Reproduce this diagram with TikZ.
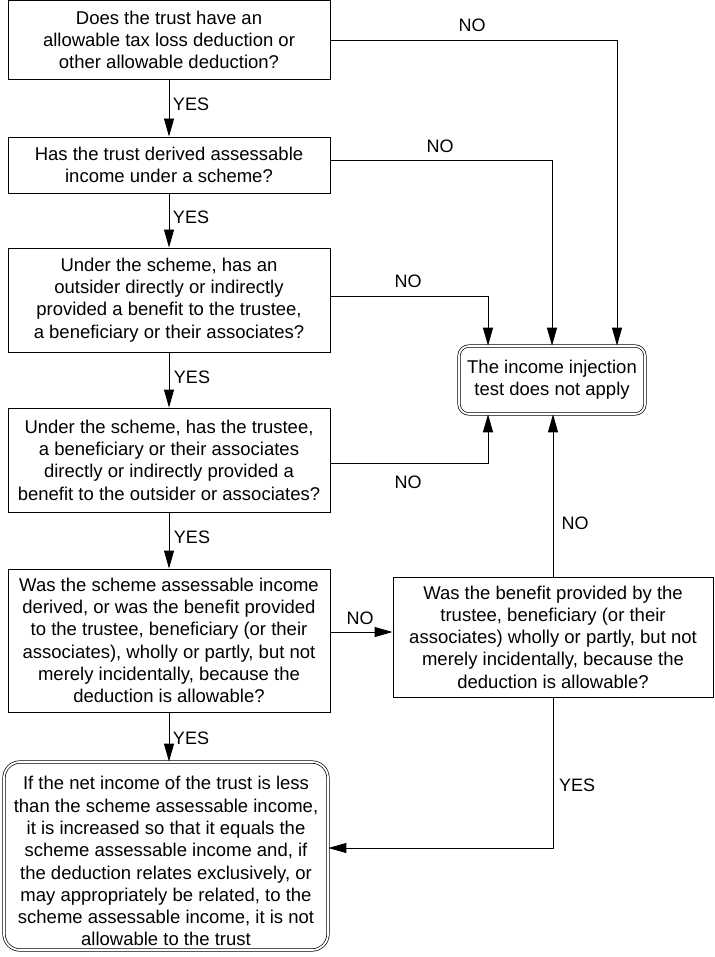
\documentclass[tikz,border=0pt]{standalone}
\usepackage{fontspec}
\setmainfont{Liberation Sans}
\usetikzlibrary{arrows.meta}
\begin{document}
\begin{tikzpicture}[x=1pt,y=-1pt,
  every node/.style={font=\fontsize{18.5}{22.3}\selectfont, inner sep=0pt},
  qbox/.style={draw, line width=0.9pt, rectangle, align=center},
  endbox/.style={draw, line width=0.7pt, double, double distance=1.8pt, rounded corners=10pt, align=center},
  arr/.style={line width=0.9pt, -{Triangle[length=18pt,width=10pt]}},
  lbl/.style={font=\fontsize{18}{20}\selectfont}
]
\useasboundingbox (0,0) rectangle (714,957);
\fill[white] (0,0) rectangle (714,957);

\node[qbox, minimum width=322pt, minimum height=79pt] (b1) at (169,40)
  {Does the trust have an\\allowable tax loss deduction or\\other allowable deduction?};
\node[qbox, minimum width=322pt, minimum height=56pt] (b2) at (169,165)
  {Has the trust derived assessable\\income under a scheme?};
\node[qbox, minimum width=322pt, minimum height=104pt] (b3) at (169,300)
  {Under the scheme, has an\\outsider directly or indirectly\\provided a benefit to the trustee,\\a beneficiary or their associates?};
\node[qbox, minimum width=322pt, minimum height=104pt] (b4) at (169,460)
  {Under the scheme, has the trustee,\\a beneficiary or their associates\\directly or indirectly provided a\\benefit to the outsider or associates?};
\node[qbox, minimum width=322pt, minimum height=143pt] (b5) at (169,640.5)
  {Was the scheme assessable income\\derived, or was the benefit provided\\to the trustee, beneficiary (or their\\associates), wholly or partly, but not\\merely incidentally, because the\\deduction is allowable?};
\node[qbox, minimum width=320pt, minimum height=120pt] (rb) at (553,637)
  {Was the benefit provided by the\\trustee, beneficiary (or their\\associates) wholly or partly, but not\\merely incidentally, because the\\deduction is allowable?};
\node[endbox, minimum width=186pt, minimum height=68pt] (inj) at (552,380)
  {The income injection\\test does not apply};
\node[endbox, rounded corners=16pt, minimum width=324pt, minimum height=188pt] (fin) at (166,856)
  {\rule{0pt}{24pt}If the net income of the trust is less\\than the scheme assessable income,\\it is increased so that it equals the\\scheme assessable income and, if\\the deduction relates exclusively, or\\may appropriately be related, to the\\scheme assessable income, it is not\\allowable to the trust};

% YES arrows down
\draw[arr] (b1.south) -- (b2.north);
\draw[arr] (b2.south) -- (b3.north);
\draw[arr] (b3.south) -- (b4.north);
\draw[arr] (b4.south) -- (b5.north);
\draw[arr] (b5.south) -- (b5.south |- fin.north);

% NO arrows to injection box
\draw[arr] (b1.east) -| ([xshift=65pt]inj.north);
\draw[arr] ([yshift=5pt]b2.east) -| (inj.north);
\draw[arr] ([yshift=4pt]b3.east) -| ([xshift=-64pt]inj.north);
\draw[arr] ([yshift=-3pt]b4.east) -| ([xshift=-64pt]inj.south);
\draw[arr] (rb.north) -- (rb.north |- inj.south);
\draw[arr] ([yshift=8.5pt]b5.east) -- ([yshift=8.5pt]b5.east -| rb.west);
\draw[arr] (rb.south) |- ([yshift=8pt]fin.east);

% labels
\node[lbl] (n1) at (472,25) {NO};
\node[lbl] (n2) at (440,146) {NO};
\node[lbl] (n3) at (408,281) {NO};
\node[lbl] (n4) at (408,482) {NO};
\node[lbl] (n5) at (575,523) {NO};
\node[lbl] (n6) at (360,618) {NO};
\node[lbl] (y1) at (191,104) {YES};
\node[lbl] (y2) at (191,217) {YES};
\node[lbl] (y3) at (192,377) {YES};
\node[lbl] (y4) at (192,537) {YES};
\node[lbl] (y5) at (191,738) {YES};
\node[lbl] (y6) at (577,785) {YES};
\end{tikzpicture}
\end{document}
